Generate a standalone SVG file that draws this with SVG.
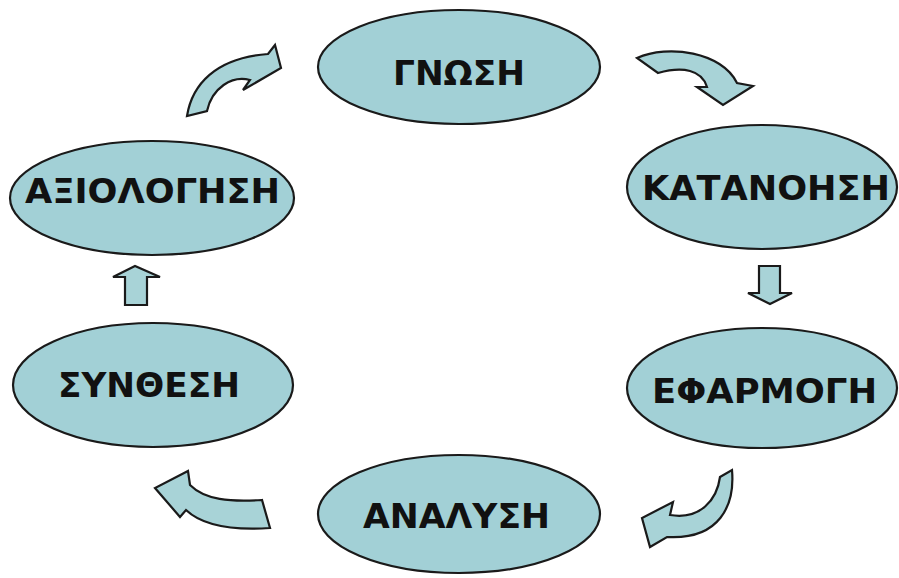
<svg xmlns="http://www.w3.org/2000/svg" width="899" height="578" viewBox="0 0 899 578">
<style>
.n{fill:#a2d0d6;stroke:#1a1a1a;stroke-width:2.2}
.t{font-family:"DejaVu Sans","Liberation Sans",Arial,sans-serif;font-weight:bold;font-size:33px;fill:#111;text-anchor:start}
.a{fill:#a8d3d7;stroke:#1a1a1a;stroke-width:2.2;stroke-linejoin:miter}
</style>
<rect width="899" height="578" fill="#ffffff"/>
<g id="gnosi"><ellipse class="n" cx="459" cy="67" rx="141" ry="57"/><text class="t" x="393" y="85" textLength="132" lengthAdjust="spacingAndGlyphs">ΓΝΩΣΗ</text></g>
<g id="katanoisi"><ellipse class="n" cx="762" cy="187" rx="135" ry="62"/><text class="t" x="642" y="200" textLength="248" lengthAdjust="spacingAndGlyphs">ΚΑΤΑΝΟΗΣΗ</text></g>
<g id="efarmogi"><ellipse class="n" cx="762" cy="388" rx="135" ry="60"/><text class="t" x="652" y="403" textLength="225" lengthAdjust="spacingAndGlyphs">ΕΦΑΡΜΟΓΗ</text></g>
<g id="analysi"><ellipse class="n" cx="459" cy="514" rx="141" ry="59"/><text class="t" x="363" y="528" textLength="187" lengthAdjust="spacingAndGlyphs">ΑΝΑΛΥΣΗ</text></g>
<g id="synthesi"><ellipse class="n" cx="153" cy="385" rx="140" ry="62"/><text class="t" x="58" y="397" textLength="182" lengthAdjust="spacingAndGlyphs">ΣΥΝΘΕΣΗ</text></g>
<g id="axiologisi"><ellipse class="n" cx="152" cy="198" rx="142" ry="57"/><text class="t" x="25" y="203" textLength="255" lengthAdjust="spacingAndGlyphs">ΑΞΙΟΛΟΓΗΣΗ</text></g>
<g id="connectors">
<path class="a" d="M187,116 C192,85 215,58 268,54 L275,45 L281,68 L243,90 L250,80 C232,75 212,88 207,111 Z"/>
<path class="a" d="M637,58 C668,44 722,52 737,83 L753,86 L723,105 L697,87 L707,87 C702,70 683,66 658,73 Z"/>
<path class="a" d="M759,266 L780,266 L780,293 L792,293 L770,304 L748,293 L759,293 Z"/>
<path class="a" d="M125,305 L147,305 L147,277 L160,277 L135,266 L113,277 L125,277 Z"/>
<path class="a" d="M732,470 C735,505 720,540 667,537 L650,547 L642,518 L673,502 L670,515 C700,520 717,500 720,477 Z"/>
<path class="a" d="M270,528 C240,530 205,528 186,510 L180,517 L155,488 L188,471 L190,485 C205,500 230,502 262,500 Z"/>
</g>
</svg>
